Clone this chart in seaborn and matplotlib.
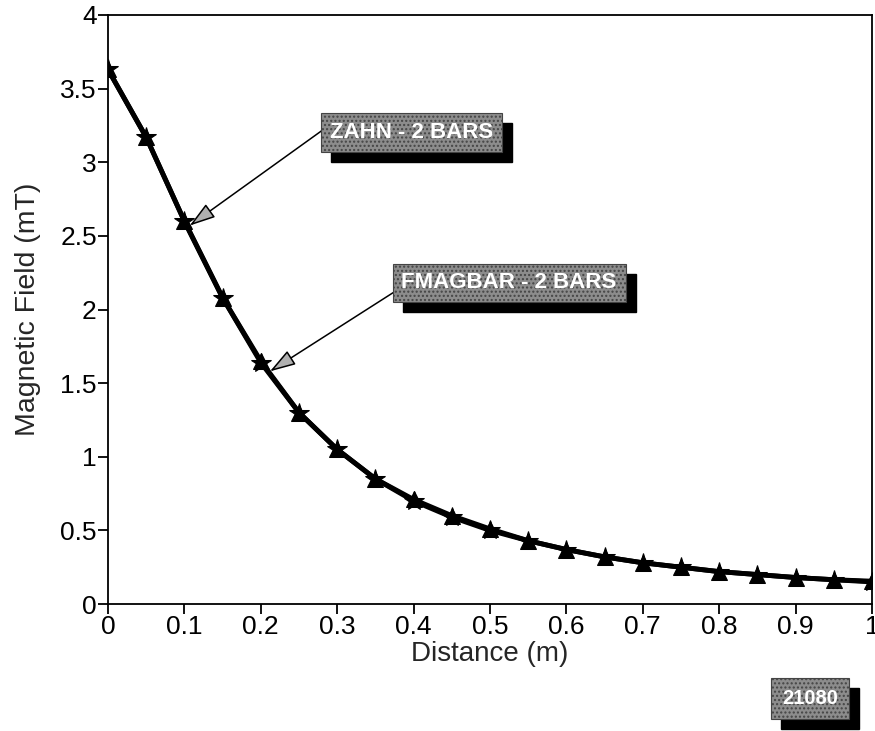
import matplotlib
matplotlib.use("Agg")
import matplotlib.pyplot as plt
from matplotlib.patches import Rectangle
from matplotlib.transforms import IdentityTransform
import seaborn as sns
import pandas as pd

distance = [0.0, 0.05, 0.1, 0.15, 0.2, 0.25, 0.3, 0.35, 0.4, 0.45, 0.5,
            0.55, 0.6, 0.65, 0.7, 0.75, 0.8, 0.85, 0.9, 0.95, 1.0]
zahn = [3.63, 3.17, 2.60, 2.08, 1.65, 1.30, 1.05, 0.85, 0.71, 0.60, 0.51,
        0.43, 0.37, 0.32, 0.28, 0.25, 0.22, 0.20, 0.18, 0.165, 0.155]
fmagbar = [3.63, 3.17, 2.60, 2.08, 1.64, 1.30, 1.05, 0.85, 0.70, 0.59, 0.50,
           0.43, 0.37, 0.32, 0.28, 0.25, 0.22, 0.20, 0.18, 0.165, 0.15]
xticks = [0, 0.1, 0.2, 0.3, 0.4, 0.5, 0.6, 0.7, 0.8, 0.9, 1]
xticklabels = ["0", "0.1", "0.2", "0.3", "0.4", "0.5", "0.6", "0.7", "0.8", "0.9", "1"]
yticks = [0, 0.5, 1, 1.5, 2, 2.5, 3, 3.5, 4]
yticklabels = ["0", "0.5", "1", "1.5", "2", "2.5", "3", "3.5", "4"]
labels = ["ZAHN - 2 BARS", "FMAGBAR - 2 BARS"]
stamp = "21080"

sns.set_style("white")
plt.rcParams["font.family"] = ["Liberation Sans", "DejaVu Sans"]

df = pd.DataFrame({"Distance": distance, "ZAHN": zahn, "FMAGBAR": fmagbar})

fig = plt.figure(figsize=(8.75, 7.31), dpi=100)
ax = fig.add_axes([0.1234, 0.1737, 0.8732, 0.8058])

sns.lineplot(data=df, x="Distance", y="ZAHN", ax=ax, color="black", lw=3.5,
             marker="^", markersize=11, markeredgecolor="black", markerfacecolor="black")
sns.lineplot(data=df, x="Distance", y="FMAGBAR", ax=ax, color="black", lw=3.5,
             marker="*", markersize=15, markeredgecolor="black", markerfacecolor="black")

ax.set_xlim(0, 1)
ax.set_ylim(0, 4)
ax.set_xticks(xticks)
ax.set_xticklabels(xticklabels)
ax.set_yticks(yticks)
ax.set_yticklabels(yticklabels)
ax.tick_params(axis="both", direction="out", length=7, width=1.3, labelsize=19,
               bottom=True, left=True, colors="black", pad=1)
for s in ax.spines.values():
    s.set_visible(True)
    s.set_color("black")
    s.set_linewidth(1.3)
ax.set_xlabel("Distance (m)", fontsize=20, labelpad=1)
ax.set_ylabel("Magnetic Field (mT)", fontsize=20.5, labelpad=14)

boxes = []

def gray_label(x, y, txt, coords, fs=16, pad=0.4):
    t = ax.annotate(txt, xy=(x, y), xycoords=coords, color="white",
                    fontsize=fs, fontweight="bold", ha="center", va="center",
                    bbox=dict(boxstyle=f"square,pad={pad}", fc="#8c8c8c", ec="#444444",
                              hatch="....", lw=0.8),
                    annotation_clip=False, zorder=5)
    boxes.append(t)
    return t

arrow_kw = dict(arrowstyle="-|>,head_length=1.6,head_width=0.5", fc="#b0b0b0", ec="black",
                lw=1.1, shrinkA=0, shrinkB=0)
ax.annotate("", xy=(0.107, 2.57), xytext=(0.284, 3.23), arrowprops=arrow_kw)
ax.annotate("", xy=(0.212, 1.58), xytext=(0.393, 2.18), arrowprops=arrow_kw)

gray_label(0.397, 3.20, labels[0], "data")
gray_label(0.525, 2.18, labels[1], "data")
gray_label(0.926, 0.045, stamp, "figure fraction", fs=14.5, pad=0.55)

fig.canvas.draw()
renderer = fig.canvas.get_renderer()
for t in boxes:
    bb = t.get_bbox_patch().get_window_extent(renderer)
    shadow = Rectangle((bb.x0 + 10, bb.y0 - 10), bb.width, bb.height,
                       transform=IdentityTransform(), fc="black", ec="black",
                       zorder=4.9, clip_on=False)
    ax.add_artist(shadow)

fig.savefig("out.png", dpi=100)
